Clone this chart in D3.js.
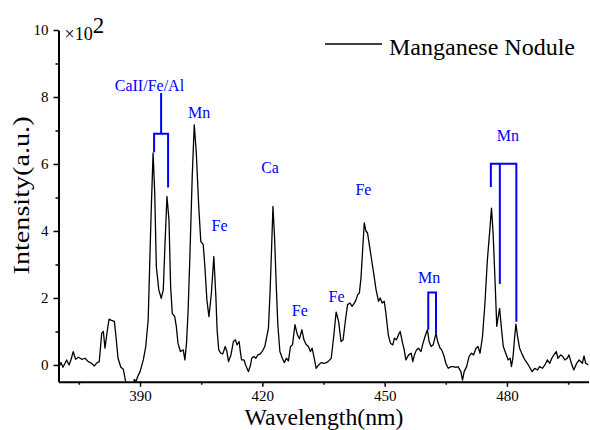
<!DOCTYPE html>
<html>
<head>
<meta charset="utf-8">
<script src="https://cdn.jsdelivr.net/npm/d3@7"></script>
<style>
  body { margin: 0; background: #fff; }
  svg text { font-family: "Liberation Serif", "DejaVu Serif", serif; }
</style>
</head>
<body>
<svg id="chart" width="590" height="430"></svg>
<script>
// spectrum, intensity in units of x10^2
let wavelength = [
  370.1, 370.6, 371.1, 371.6, 372.0, 372.6, 373.1, 373.6, 374.2, 374.9, 375.7, 376.5, 377.3, 378.1,
  378.8, 379.3, 380.0, 380.6, 381.0, 381.4, 382.0, 382.4, 383.0, 383.7, 384.1, 384.6, 385.3, 385.9,
  386.4, 386.9, 388.1, 388.6, 389.0, 389.4, 390.0, 390.8, 391.4, 392.0, 392.4, 392.8, 393.2, 393.6,
  394.0, 394.6, 395.2, 395.7, 396.1, 396.6, 397.1, 397.5, 397.9, 398.5, 398.9, 399.3, 399.9, 400.6,
  401.0, 401.4, 401.8, 402.2, 402.8, 403.3, 403.8, 404.4, 404.9, 405.5, 405.9, 406.4, 406.9, 407.5,
  408.1, 408.6, 408.9, 409.3, 409.8, 410.3, 410.9, 411.3, 411.7, 412.3, 412.9, 413.4, 413.8, 414.3,
  414.6, 414.9, 415.5, 415.9, 416.6, 417.1, 417.4, 417.9, 418.4, 418.9, 419.5, 420.1, 420.6, 421.1,
  421.5, 421.9, 422.3, 422.6, 423.0, 423.4, 423.8, 424.3, 424.9, 425.4, 425.9, 426.4, 426.9, 427.4,
  428.0, 428.6, 429.1, 429.7, 430.2, 430.7, 431.3, 431.8, 432.2, 432.7, 433.2, 433.8, 434.4, 435.1,
  435.7, 436.3, 436.9, 437.5, 438.1, 438.7, 439.3, 439.8, 440.4, 440.9, 441.5, 442.0, 442.6, 443.0,
  443.4, 443.8, 444.2, 444.6, 445.0, 445.4, 445.8, 446.3, 446.8, 447.3, 447.9, 448.5, 448.9, 449.4,
  449.9, 450.3, 450.9, 451.4, 452.0, 452.4, 452.9, 453.4, 453.8, 454.4, 454.8, 455.2, 455.9, 456.5,
  456.9, 457.3, 457.8, 458.3, 458.9, 459.3, 459.9, 460.5, 460.9, 461.4, 461.9, 462.3, 462.6, 463.0,
  463.6, 464.0, 464.6, 465.0, 465.6, 466.3, 466.8, 467.5, 468.0, 468.7, 469.1, 469.5, 470.1, 470.7,
  471.3, 471.8, 472.4, 472.9, 473.4, 474.0, 474.6, 475.2, 475.8, 476.2, 476.6, 477.1, 477.5, 477.8,
  478.2, 478.6, 479.1, 479.7, 480.3, 480.8, 481.1, 481.5, 481.9, 482.2, 482.6, 483.1, 483.8, 484.4,
  485.0, 485.7, 486.2, 486.8, 487.5, 488.0, 488.7, 489.3, 489.9, 490.5, 491.0, 491.5, 492.1, 492.5,
  493.2, 493.7, 494.2, 494.8, 495.2, 495.8, 496.4, 497.1, 497.7, 498.5, 498.9, 499.3, 500.0
];
let intensity = [
  -0.07, 0.07, -0.07, 0.05, 0.15, 0.00, 0.17, 0.40, 0.17, 0.23, 0.17, 0.20, 0.10, 0.05,
  -0.03, 0.05, 0.10, 0.95, 1.00, 0.50, 1.05, 1.37, 1.33, 1.30, 0.85, 0.20, -0.07, -0.13,
  -0.45, -0.75, -0.75, -0.43, -0.50, -0.35, -0.20, 0.15, 0.55, 1.35, 3.14, 4.83, 6.33, 5.13,
  2.94, 2.24, 1.99, 2.24, 3.54, 5.03, 4.33, 2.34, 1.54, 1.44, 1.15, 0.65, 0.40, 0.45,
  0.15, 0.65, 1.64, 3.14, 5.63, 7.17, 6.33, 4.73, 3.69, 3.59, 2.94, 1.94, 1.44, 2.14,
  3.24, 2.04, 1.05, 0.45, 0.35, 0.33, 0.55, 0.40, 0.10, 0.30, 0.70, 0.75, 0.60, 0.70,
  0.40, 0.15, 0.15, 0.00, -0.20, 0.00, 0.20, 0.25, 0.20, 0.30, 0.33, 0.43, 0.55, 0.85,
  1.10, 2.20, 3.60, 4.73, 3.80, 2.40, 1.20, 0.40, 0.20, 0.07, 0.20, 0.12, 0.55, 0.60,
  1.20, 0.90, 0.78, 1.05, 0.75, 0.62, 0.55, 0.40, 0.50, 0.22, -0.10, 0.00, 0.07, 0.05,
  0.07, 0.12, 0.20, 0.85, 1.58, 1.30, 0.70, 0.75, 1.35, 1.80, 1.85, 1.75, 1.85, 1.95,
  2.10, 2.15, 2.60, 3.44, 4.24, 4.00, 3.94, 3.54, 3.14, 2.74, 2.24, 1.90, 2.00, 1.85,
  1.90, 1.55, 0.90, 0.65, 0.60, 0.80, 0.75, 0.90, 1.00, 0.65, 0.45, 0.15, 0.30, 0.35,
  0.10, 0.30, 0.45, 0.50, 0.40, 0.60, 0.85, 1.05, 0.70, 0.55, 0.60, 0.80, 0.95, 0.70,
  0.50, 0.45, 0.25, 0.05, -0.10, -0.05, -0.05, -0.07, -0.05, -0.20, -0.45, -0.20, -0.05, 0.25,
  0.35, 0.30, 0.50, 0.55, 0.35, 0.85, 1.84, 3.14, 4.04, 4.68, 3.94, 2.44, 1.15, 1.40,
  1.69, 1.15, 0.55, 0.35, 0.15, 0.20, -0.05, 0.25, 0.85, 1.22, 0.85, 0.50, 0.30, 0.15,
  0.05, -0.10, -0.20, -0.10, -0.15, -0.05, -0.10, 0.00, 0.15, 0.05, 0.20, 0.30, 0.40, 0.20,
  0.30, 0.25, 0.15, 0.20, 0.30, 0.05, -0.15, 0.05, 0.15, 0.05, 0.27, 0.05, 0.00
];

let x_major = [390, 420, 450, 480],
  x_minor = [375, 405, 435, 465, 495],
  y_major = [0, 2, 4, 6, 8, 10],
  y_minor = [1, 3, 5, 7, 9];

// element labels: text, wavelength, intensity of baseline
let label_text = ["CaII/Fe/Al", "Mn", "Fe", "Ca", "Fe", "Fe", "Fe", "Mn", "Mn"],
  label_wl = [392.3, 404.5, 409.5, 421.9, 429.2, 438.2, 444.8, 460.9, 480.2],
  label_int = [8.18, 7.37, 4.01, 5.74, 1.47, 1.89, 5.07, 2.44, 6.69];

// bracket lines in data units [wavelength, intensity]
let brackets = [
  [[393.45, 6.35], [393.45, 6.9], [396.88, 6.9], [396.88, 5.3]],
  [[395.17, 6.9], [395.17, 8.12]],
  [[460.7, 1.05], [460.7, 2.16], [462.6, 2.16], [462.6, 0.95]],
  [[476.05, 5.31], [476.05, 6.01], [482.3, 6.01], [482.3, 1.29]],
  [[478.25, 6.01], [478.25, 2.42]]
];

let series_name = "Manganese Nodule";

let width = 590, height = 430,
  margins = {left: 58.5, right: 1.5, top: 30, bottom: 48.3};

let svg = d3.select("#chart");

let x = d3.scaleLinear().domain([370, 500]).range([margins.left, width - margins.right]),
  y = d3.scaleLinear().domain([-0.5, 10]).range([height - margins.bottom, margins.top]);

svg.append("clipPath").attr("id", "clip")
  .append("rect")
  .attr("x", x(370)).attr("y", y(10))
  .attr("width", x(500) - x(370)).attr("height", y(-0.5) - y(10));

let pts = wavelength.map((w, i) => [w, intensity[i]]);
let line = d3.line().x(d => x(d[0])).y(d => y(d[1]));

svg.append("path")
  .datum(pts)
  .attr("clip-path", "url(#clip)")
  .attr("fill", "none")
  .attr("stroke", "#000")
  .attr("stroke-width", 1.3)
  .attr("stroke-linejoin", "round")
  .attr("d", line);

// blue annotations
svg.append("g")
  .selectAll("path")
  .data(brackets).enter()
  .append("path")
  .attr("fill", "none")
  .attr("stroke", "#0000ff")
  .attr("stroke-width", 2)
  .attr("d", line);

svg.append("g")
  .selectAll("text")
  .data(label_text).enter()
  .append("text")
  .attr("x", (d, i) => x(label_wl[i]))
  .attr("y", (d, i) => y(label_int[i]))
  .attr("text-anchor", "middle")
  .attr("fill", "#0000ff")
  .attr("font-size", 16)
  .text(d => d);

// axes
function style_axis(g) {
  g.attr("font-family", null);
  g.select(".domain").attr("stroke-width", 2);
  g.selectAll(".tick line").attr("stroke-width", 1.5);
  g.selectAll(".tick text").attr("font-size", 15).attr("fill", "#000");
}

svg.append("g")
  .attr("transform", `translate(0, ${y(-0.5)})`)
  .call(d3.axisBottom(x).tickValues(x_minor).tickSize(3).tickSizeOuter(0).tickFormat(""))
  .call(g => g.select(".domain").remove())
  .selectAll("line").attr("stroke-width", 1.5);

svg.append("g")
  .attr("transform", `translate(${x(370)}, 0)`)
  .call(d3.axisLeft(y).tickValues(y_minor).tickSize(3).tickSizeOuter(0).tickFormat(""))
  .call(g => g.select(".domain").remove())
  .selectAll("line").attr("stroke-width", 1.5);

svg.append("g")
  .attr("transform", `translate(0, ${y(-0.5)})`)
  .call(d3.axisBottom(x).tickValues(x_major).tickSize(5).tickPadding(4).tickSizeOuter(0))
  .call(style_axis);

svg.append("g")
  .attr("transform", `translate(${x(370)}, 0)`)
  .call(d3.axisLeft(y).tickValues(y_major).tickSize(5).tickPadding(5).tickSizeOuter(0))
  .call(style_axis);

// exponent
let expo = svg.append("text")
  .attr("x", x(370) + 6)
  .attr("y", y(10) + 10)
  .attr("font-size", 18);
expo.append("tspan").text("\u00d710");
expo.append("tspan").attr("font-size", 23).attr("dy", -7).text("2");

// axis titles
svg.append("text")
  .attr("x", (x(370) + x(500)) / 2 + 0.5)
  .attr("y", 425)
  .attr("text-anchor", "middle")
  .attr("font-size", 23)
  .attr("textLength", 159)
  .attr("lengthAdjust", "spacingAndGlyphs")
  .text("Wavelength(nm)");

svg.append("text")
  .attr("transform", `translate(29, ${y(5) - 2}) rotate(-90)`)
  .attr("text-anchor", "middle")
  .attr("font-size", 24)
  .attr("textLength", 158)
  .attr("lengthAdjust", "spacingAndGlyphs")
  .text("Intensity(a.u.)");

// legend
let legend = svg.append("g").attr("transform", "translate(325, 44)");
legend.append("line")
  .attr("x1", 0).attr("x2", 57).attr("y1", 0).attr("y2", 0)
  .attr("stroke", "#000").attr("stroke-width", 1.3);
legend.append("text")
  .attr("x", 64).attr("y", 11)
  .attr("font-size", 23)
  .attr("textLength", 186)
  .attr("lengthAdjust", "spacingAndGlyphs")
  .text(series_name);
</script>
</body>
</html>
